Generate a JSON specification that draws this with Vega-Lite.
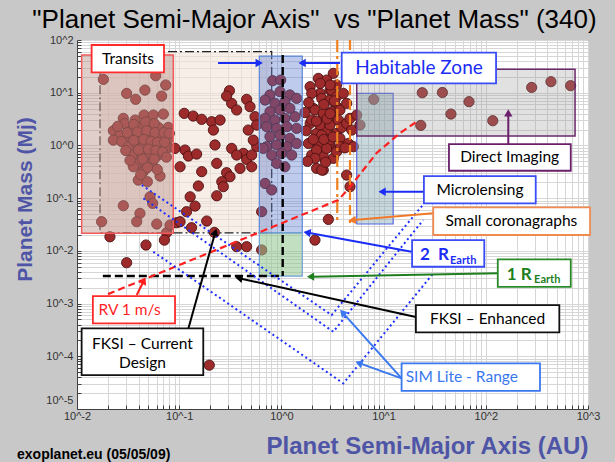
{
  "$schema": "https://vega.github.io/schema/vega-lite/v6.json",
  "width": 511,
  "height": 369,
  "autosize": {"type": "none"},
  "padding": {"left": 77, "top": 40, "right": 27, "bottom": 53},
  "background": "#c8c8c8",
  "view": {"fill": "white", "stroke": "#404040", "strokeWidth": 1},
  "title": {
    "text": "\"Planet Semi-Major Axis\"\u00a0 vs \"Planet Mass\" (340)",
    "font": "Liberation Sans", "fontSize": 26, "fontWeight": "normal", "color": "#000000",
    "anchor": "middle", "frame": "group", "offset": 1, "dx": -18
  },
  "datasets": {
    "planets": [
      {"x":0.0181,"y":17.9},{"x":0.0589,"y":21.0},{"x":0.0738,"y":14.0},{"x":0.0462,"y":11.2},{"x":0.0306,"y":9.7},{"x":0.0375,"y":7.5},{"x":0.0673,"y":8.65},{"x":0.0284,"y":3.26},{"x":0.037,"y":3.03},{"x":0.0453,"y":3.77},{"x":0.0558,"y":3.77},{"x":0.07,"y":3.94},{"x":0.0783,"y":2.2},{"x":0.0625,"y":2.2},{"x":0.0499,"y":2.33},{"x":0.0413,"y":2.2},{"x":0.033,"y":2.11},{"x":0.0227,"y":1.9},{"x":0.0264,"y":1.57},{"x":0.033,"y":1.47},{"x":0.0413,"y":1.51},{"x":0.0518,"y":1.47},{"x":0.0649,"y":1.47},{"x":0.0783,"y":1.36},{"x":0.0227,"y":1.26},{"x":0.0274,"y":1.18},{"x":0.0318,"y":0.946},{"x":0.0384,"y":1.09},{"x":0.0446,"y":0.975},{"x":0.0558,"y":0.975},{"x":0.0673,"y":0.918},{"x":0.0783,"y":0.918},{"x":0.0356,"y":0.658},{"x":0.043,"y":0.658},{"x":0.0518,"y":0.706},{"x":0.0625,"y":0.658},{"x":0.0384,"y":0.444},{"x":0.0462,"y":0.47},{"x":0.0538,"y":0.457},{"x":0.0356,"y":0.394},{"x":0.0446,"y":0.318},{"x":0.0649,"y":0.262},{"x":0.0398,"y":0.22},{"x":0.0488,"y":0.205},{"x":0.0518,"y":0.106},{"x":0.055,"y":0.0796},{"x":0.0284,"y":0.0718},{"x":0.0413,"y":0.0514},{"x":0.0384,"y":0.0357},{"x":0.0174,"y":0.0357},{"x":0.0603,"y":0.0323},{"x":0.0753,"y":0.0221},{"x":0.0813,"y":0.0309},{"x":0.0944,"y":0.0342},{"x":0.021,"y":0.0185},
      {"x":0.029,"y":2.6},{"x":0.036,"y":2.5},{"x":0.047,"y":2.8},{"x":0.057,"y":2.6},{"x":0.025,"y":2.3},{"x":0.031,"y":1.75},{"x":0.039,"y":1.8},{"x":0.048,"y":1.9},{"x":0.058,"y":1.75},{"x":0.071,"y":1.75},{"x":0.036,"y":1.25},{"x":0.045,"y":1.3},{"x":0.053,"y":1.2},{"x":0.061,"y":1.15},{"x":0.072,"y":1.15},{"x":0.03,"y":0.8},{"x":0.04,"y":0.82},{"x":0.05,"y":0.85},{"x":0.059,"y":0.8},{"x":0.069,"y":0.75},{"x":0.044,"y":0.55},{"x":0.057,"y":0.55},{"x":0.033,"y":0.52},{"x":0.049,"y":0.38},{"x":0.042,"y":0.28},{"x":0.061,"y":0.35},{"x":0.075,"y":0.6},{"x":0.08,"y":1.7},
      {"x":0.112,"y":4.06},{"x":0.137,"y":3.61},{"x":0.166,"y":3.13},{"x":0.114,"y":0.818},{"x":0.123,"y":0.63},{"x":0.148,"y":0.687},{"x":0.102,"y":0.394},{"x":0.166,"y":0.318},{"x":0.154,"y":0.17},{"x":0.128,"y":0.106},{"x":0.143,"y":0.0708},{"x":0.118,"y":0.0553},{"x":0.102,"y":0.0357},{"x":0.091,"y":0.879},{"x":0.31,"y":10.9},{"x":0.326,"y":6.28},{"x":0.291,"y":8.65},{"x":0.457,"y":7.48},{"x":0.493,"y":5.43},{"x":0.365,"y":4.7},{"x":0.552,"y":3.51},{"x":0.208,"y":2.82},{"x":0.251,"y":3.03},{"x":0.216,"y":1.96},{"x":0.474,"y":1.96},{"x":0.573,"y":2.44},{"x":0.224,"y":1.02},{"x":0.326,"y":0.879},{"x":0.425,"y":0.706},{"x":0.573,"y":0.946},{"x":0.457,"y":0.544},{"x":0.512,"y":0.658},{"x":0.233,"y":0.457},{"x":0.394,"y":0.367},{"x":0.512,"y":0.394},{"x":0.291,"y":0.304},{"x":0.314,"y":0.255},{"x":0.261,"y":0.205},{"x":0.27,"y":0.165},{"x":0.233,"y":0.111},{"x":0.641,"y":0.0553},{"x":0.365,"y":0.658},{"x":0.531,"y":1.26},
      {"x":0.822,"y":16.9},{"x":0.984,"y":17.4},{"x":0.968,"y":10.5},{"x":0.773,"y":9.06},{"x":1.21,"y":9.06},{"x":0.692,"y":7.27},{"x":0.865,"y":6.28},{"x":1.08,"y":6.76},{"x":1.41,"y":7.82},{"x":0.773,"y":4.37},{"x":0.968,"y":4.7},{"x":1.21,"y":5.05},{"x":0.692,"y":3.26},{"x":0.865,"y":3.03},{"x":1.08,"y":3.26},{"x":1.36,"y":3.51},{"x":0.718,"y":2.27},{"x":0.9,"y":2.11},{"x":1.13,"y":2.27},{"x":1.41,"y":2.11},{"x":0.773,"y":1.47},{"x":0.968,"y":1.57},{"x":1.21,"y":1.36},{"x":0.718,"y":0.946},{"x":0.9,"y":1.02},{"x":1.13,"y":0.946},{"x":1.41,"y":1.09},{"x":0.804,"y":0.658},{"x":1.0,"y":0.706},{"x":1.26,"y":0.658},{"x":0.9,"y":0.457},{"x":1.08,"y":0.394},{"x":0.665,"y":0.879},{"x":0.692,"y":0.19},{"x":0.804,"y":0.143},
      {"x":1.91,"y":13.0},{"x":2.39,"y":9.73},{"x":2.99,"y":11.2},{"x":3.22,"y":23.3},{"x":2.3,"y":18.7},{"x":2.77,"y":17.4},{"x":3.47,"y":5.43},{"x":2.05,"y":5.05},{"x":2.57,"y":3.51},{"x":3.22,"y":3.03},{"x":1.91,"y":2.62},{"x":2.21,"y":1.69},{"x":2.77,"y":1.96},{"x":3.47,"y":1.69},{"x":1.84,"y":1.09},{"x":2.3,"y":0.946},{"x":2.99,"y":1.09},{"x":3.47,"y":0.818},{"x":1.98,"y":0.658},{"x":2.57,"y":0.611},{"x":3.22,"y":0.569},{"x":2.21,"y":0.367},{"x":2.57,"y":0.341},{"x":2.88,"y":0.0395},
      {"x":1.98,"y":9.73},{"x":2.48,"y":7.82},{"x":2.99,"y":7.27},{"x":3.1,"y":11.2},{"x":2.13,"y":4.7},{"x":2.57,"y":4.06},{"x":3.1,"y":4.37},{"x":3.74,"y":4.7},{"x":1.98,"y":3.03},{"x":2.39,"y":2.44},{"x":2.99,"y":2.44},{"x":3.61,"y":3.03},{"x":2.48,"y":1.57},{"x":2.99,"y":1.26},{"x":3.74,"y":1.36},{"x":2.21,"y":0.818},{"x":2.77,"y":0.879},{"x":3.47,"y":0.76},{"x":2.13,"y":0.569},{"x":2.48,"y":0.341},{"x":3.47,"y":14.0},{"x":3.47,"y":8.41},
      {"x":1.7,"y":4.2},{"x":1.85,"y":6.5},{"x":2.6,"y":6.0},{"x":3.3,"y":7.0},{"x":2.2,"y":2.9},{"x":2.8,"y":3.2},{"x":3.0,"y":4.0},{"x":2.05,"y":1.3},{"x":2.6,"y":1.3},{"x":3.2,"y":1.45},{"x":1.75,"y":1.9},{"x":3.9,"y":2.2},{"x":3.8,"y":0.95},{"x":2.7,"y":0.48},{"x":1.8,"y":0.5},{"x":2.4,"y":15.0},{"x":3.0,"y":14.0},
      {"x":4.04,"y":9.73},{"x":4.35,"y":6.28},{"x":4.35,"y":2.62},{"x":4.69,"y":3.26},{"x":4.87,"y":1.96},{"x":4.52,"y":1.09},{"x":5.06,"y":0.946},{"x":4.19,"y":0.9},{"x":4.35,"y":0.274},{"x":4.69,"y":0.165},{"x":5.45,"y":3.77},{"x":5.87,"y":2.44},{"x":8.0,"y":7.48},
      {"x":23.9,"y":10.0},{"x":37.6,"y":10.1},{"x":68.5,"y":6.76},{"x":45.6,"y":3.94},{"x":117,"y":2.94},{"x":23.1,"y":2.4},{"x":281,"y":12.6},{"x":434,"y":16.2},{"x":676,"y":13.6},
      {"x":0.0306,"y":0.00596},{"x":0.0473,"y":0.0129},{"x":0.0716,"y":0.016},{"x":0.132,"y":0.0275},{"x":0.186,"y":0.0368},{"x":0.221,"y":0.0224},{"x":0.365,"y":0.012},{"x":0.457,"y":0.012},{"x":0.641,"y":0.0104},{"x":2.13,"y":0.016},{"x":0.197,"y":0.000068}
    ],
    "arrows": [
      {"x":0.59,"y":36.6,"x2":0.24,"y2":36.6,"c":"blue","ang":90},
      {"x":1.64,"y":36.6,"x2":3.74,"y2":36.6,"c":"blue","ang":270},
      {"x":166,"y":3.94,"x2":166,"y2":1.06,"c":"purple","ang":0},
      {"x":9.93,"y":0.132,"x2":24.4,"y2":0.132,"c":"blue","ang":270},
      {"x":5.06,"y":0.0384,"x2":30.6,"y2":0.0515,"c":"orange","ang":265},
      {"x":1.83,"y":0.022,"x2":18.8,"y2":0.00962,"c":"blue","ang":280},
      {"x":1.98,"y":0.00323,"x2":131,"y2":0.00374,"c":"green","ang":269},
      {"x":0.394,"y":0.003,"x2":20.7,"y2":0.000555,"c":"black","ang":282},
      {"x":4.04,"y":0.000652,"x2":15.0,"y2":0.0000381,"c":"sim","ang":317},
      {"x":5.87,"y":0.0000733,"x2":15.0,"y2":0.0000381,"c":"sim","ang":290},
      {"x":0.0446,"y":0.00259,"x2":0.0384,"y2":0.00145,"c":"red","ang":26},
      {"x":0.224,"y":0.0215,"x2":0.123,"y2":0.000338,"c":"black","ang":16}
    ],
    "labelboxes": [
      {"x":0.0139,"x2":0.071,"y":80.4,"y2":24.4,"c":"red"},
      {"x":3.89,"x2":126,"y":57.4,"y2":15.1,"c":"blue"},
      {"x":43.6,"x2":678,"y":1.06,"y2":0.331,"c":"purple"},
      {"x":24.8,"x2":308,"y":0.262,"y2":0.0796,"c":"blue"},
      {"x":30.6,"x2":1047,"y":0.0668,"y2":0.02,"c":"orange"},
      {"x":19.0,"x2":96.6,"y":0.016,"y2":0.00499,"c":"blue"},
      {"x":131,"x2":678,"y":0.0069,"y2":0.00208,"c":"green"},
      {"x":20.7,"x2":524,"y":0.000937,"y2":0.000284,"c":"black"},
      {"x":15.0,"x2":339,"y":0.0000733,"y2":0.0000221,"c":"sim"},
      {"x":0.0143,"x2":0.091,"y":0.00139,"y2":0.000421,"c":"red"},
      {"x":0.0111,"x2":0.172,"y":0.000338,"y2":0.000044,"c":"black"}
    ],
    "texts": [
      {"x":0.0316,"y":43.6,"t":"Transits","c":"black"},
      {"x":171,"y":0.594,"t":"Direct Imaging","c":"black"},
      {"x":87.7,"y":0.144,"t":"Microlensing","c":"black"},
      {"x":178,"y":0.0367,"t":"Small coronagraphs","c":"black"},
      {"x":104,"y":0.000515,"t":"FKSI – Enhanced","c":"black"},
      {"x":58.2,"y":0.0000398,"t":"SIM Lite - Range","c":"sim"},
      {"x":0.0327,"y":0.000753,"t":"RV 1 m/s","c":"red"},
      {"x":0.0437,"y":0.000171,"t":"FKSI – Current","c":"black"},
      {"x":0.0437,"y":0.0000733,"t":"Design","c":"black"}
    ]
  },
  "encoding": {
    "x": {
      "field": "x", "type": "quantitative",
      "scale": {"type": "log", "domain": [0.01, 1000], "nice": false},
      "axis": {
        "values": [0.01,0.02,0.03,0.04,0.05,0.06,0.07,0.08,0.09,0.1,0.2,0.3,0.4,0.5,0.6,0.7,0.8,0.9,1,2,3,4,5,6,7,8,9,10,20,30,40,50,60,70,80,90,100,200,300,400,500,600,700,800,900,1000],
        "labelExpr": "abs(log(datum.value)/LN10 - round(log(datum.value)/LN10)) < 0.01 ? '10^' + round(log(datum.value)/LN10) : ''",
        "labelOverlap": false, "labelBound": false, "labelFlush": false,
        "labelFont": "Liberation Sans", "labelFontSize": 11, "labelColor": "#333333", "labelPadding": 5,
        "grid": true, "gridColor": "#d6d6d6", "gridWidth": 1,
        "ticks": true, "tickSize": -4, "tickColor": "#404040",
        "domainColor": "#404040",
        "title": "Planet Semi-Major Axis (AU)",
        "titleFont": "Liberation Sans", "titleFontSize": 24, "titleFontWeight": "bold", "titleColor": "#4f55a6",
        "titleX": 350, "titleY": 37, "titleAlign": "center", "titleBaseline": "middle", "titleAnchor": null
      }
    },
    "y": {
      "field": "y", "type": "quantitative",
      "scale": {"type": "log", "domain": [0.00001, 100], "nice": false},
      "axis": {
        "values": [0.00001,0.00002,0.00003,0.00004,0.00005,0.00006,0.00007,0.00008,0.00009,0.0001,0.0002,0.0003,0.0004,0.0005,0.0006,0.0007,0.0008,0.0009,0.001,0.002,0.003,0.004,0.005,0.006,0.007,0.008,0.009,0.01,0.02,0.03,0.04,0.05,0.06,0.07,0.08,0.09,0.1,0.2,0.3,0.4,0.5,0.6,0.7,0.8,0.9,1,2,3,4,5,6,7,8,9,10,20,30,40,50,60,70,80,90,100],
        "labelExpr": "abs(log(datum.value)/LN10 - round(log(datum.value)/LN10)) < 0.01 ? '10^' + round(log(datum.value)/LN10) : ''",
        "labelOverlap": false, "labelBound": false, "labelFlush": false,
        "labelOffset": {"condition": {"test": "datum.value < 0.000015", "value": -9}, "value": 0},
        "labelFont": "Liberation Sans", "labelFontSize": 11, "labelColor": "#333333", "labelPadding": 8,
        "grid": true, "gridColor": "#d6d6d6", "gridWidth": 1,
        "ticks": true, "tickSize": -4, "tickColor": "#404040",
        "domainColor": "#404040",
        "title": "Planet Mass (Mj)",
        "titleFont": "Liberation Sans", "titleFontSize": 21, "titleFontWeight": "bold", "titleColor": "#4f55a6",
        "titleX": -52, "titleY": 159, "titleAngle": -90, "titleAlign": "center", "titleBaseline": "middle", "titleAnchor": null
      }
    }
  },
  "layer": [
    {
      "data": {"values": [{"x":0.0168,"x2":0.804,"y":60,"y2":0.022}]},
      "mark": {"type": "rect", "fill": "#f2e3d8", "fillOpacity": 0.6, "stroke": "#222222", "strokeWidth": 1.2, "strokeDash": [9,3,2,3]},
      "encoding": {"x2": {"field": "x2"}, "y2": {"field": "y2"}}
    },
    {
      "data": {"name": "planets"},
      "mark": {"type": "circle", "size": 105, "fill": "#9e2b2b", "fillOpacity": 1, "stroke": "#4d1212", "strokeWidth": 0.9, "opacity": 1}
    },
    {
      "data": {"values": [{"x":0.0111,"x2":0.0875,"y":51.9,"y2":0.0215}]},
      "mark": {"type": "rect", "fill": "#bb938c", "fillOpacity": 0.45, "stroke": "#f05a5a", "strokeWidth": 1.5},
      "encoding": {"x2": {"field": "x2"}, "y2": {"field": "y2"}}
    },
    {
      "data": {"values": [{"x":0.608,"x2":1.6,"y":49.6,"y2":0.022}]},
      "mark": {"type": "rect", "fill": "#5577cc", "fillOpacity": 0.38, "stroke": "#5b86d6", "strokeWidth": 1.2},
      "encoding": {"x2": {"field": "x2"}, "y2": {"field": "y2"}}
    },
    {
      "data": {"values": [{"x":0.608,"x2":1.6,"y":0.022,"y2":0.00333}]},
      "mark": {"type": "rect", "fill": "#8fc48f", "fillOpacity": 0.55, "stroke": "#6f9fd6", "strokeWidth": 1.2},
      "encoding": {"x2": {"field": "x2"}, "y2": {"field": "y2"}}
    },
    {
      "data": {"values": [{"x":5.46,"x2":12.4,"y":9.75,"y2":0.0323}]},
      "mark": {"type": "rect", "fill": "#88a9b4", "fillOpacity": 0.45, "stroke": "#5566e0", "strokeWidth": 1.2},
      "encoding": {"x2": {"field": "x2"}, "y2": {"field": "y2"}}
    },
    {
      "data": {"values": [{"x":5.46,"x2":747,"y":27.8,"y2":1.51}]},
      "mark": {"type": "rect", "fill": "#9a9a9a", "fillOpacity": 0.3, "stroke": "#6a2a6a", "strokeWidth": 1.5},
      "encoding": {"x2": {"field": "x2"}, "y2": {"field": "y2"}}
    },
    {
      "data": {"values": [{"x":1.03,"y":51.9,"x2":1.03,"y2":0.00333},{"x":0.0179,"y":0.00333,"x2":1.03,"y2":0.00333}]},
      "mark": {"type": "rule", "color": "#000000", "strokeWidth": 2.4, "strokeDash": [8,4]},
      "encoding": {"x2": {"field": "x2"}, "y2": {"field": "y2"}}
    },
    {
      "data": {"values": [{"x":3.52,"y":100,"x2":3.52,"y2":0.0337}]},
      "mark": {"type": "rule", "color": "#f08020", "strokeWidth": 2.2, "strokeDash": [12,4,3,4]},
      "encoding": {"x2": {"field": "x2"}, "y2": {"field": "y2"}}
    },
    {
      "data": {"values": [{"x":4.69,"y":100,"x2":4.69,"y2":0.0337}]},
      "mark": {"type": "rule", "color": "#f08020", "strokeWidth": 2.2, "strokeDash": [10,5]},
      "encoding": {"x2": {"field": "x2"}, "y2": {"field": "y2"}}
    },
    {
      "data": {"values": [{"x":0.0201,"y":0.00151,"o":1},{"x":3.6,"y":0.092,"o":2},{"x":4.69,"y":0.163,"o":3},{"x":8.55,"y":0.718,"o":4},{"x":14.5,"y":1.72,"o":5},{"x":21.1,"y":2.82,"o":6}]},
      "mark": {"type": "line", "color": "#ff2020", "strokeWidth": 2.2, "strokeDash": [7,4]},
      "encoding": {"order": {"field": "o", "type": "quantitative"}}
    },
    {
      "data": {"values": [
        {"x":0.043,"y":0.177,"g":"a","o":1},{"x":3.1,"y":0.000605,"g":"a","o":2},{"x":25.4,"y":0.0832,"g":"a","o":3},
        {"x":0.0446,"y":0.0991,"g":"b","o":1},{"x":3.22,"y":0.000292,"g":"b","o":2},{"x":24.4,"y":0.0384,"g":"b","o":3},
        {"x":0.0558,"y":0.00962,"g":"c","o":1},{"x":4.04,"y":0.0000306,"g":"c","o":2},{"x":30.6,"y":0.00374,"g":"c","o":3}
      ]},
      "mark": {"type": "line", "color": "#1f2fff", "strokeWidth": 2, "strokeDash": [2,3]},
      "encoding": {"detail": {"field": "g"}, "order": {"field": "o", "type": "quantitative"}}
    },
    {
      "data": {"name": "arrows"},
      "mark": {"type": "rule", "strokeWidth": 2},
      "encoding": {
        "x2": {"field": "x2"}, "y2": {"field": "y2"},
        "color": {"field": "c", "type": "nominal", "legend": null,
          "scale": {"domain": ["red","blue","purple","orange","green","black","sim"], "range": ["#ff1f1f","#1a2cf5","#6b1f6b","#f07a2a","#1f7f1f","#000000","#3a78f0"]}}
      }
    },
    {
      "data": {"name": "arrows"},
      "mark": {"type": "point", "shape": "triangle", "filled": true, "size": 70, "opacity": 1},
      "encoding": {
        "angle": {"field": "ang", "type": "quantitative", "scale": null},
        "color": {"field": "c", "type": "nominal", "legend": null,
          "scale": {"domain": ["red","blue","purple","orange","green","black","sim"], "range": ["#ff1f1f","#1a2cf5","#6b1f6b","#f07a2a","#1f7f1f","#000000","#3a78f0"]}}
      }
    },
    {
      "data": {"name": "labelboxes"},
      "mark": {"type": "rect", "fill": "white", "strokeWidth": 1.8},
      "encoding": {
        "x2": {"field": "x2"}, "y2": {"field": "y2"},
        "stroke": {"field": "c", "type": "nominal", "legend": null,
          "scale": {"domain": ["red","blue","purple","orange","green","black","sim"], "range": ["#ff2a2a","#3a4cf5","#6b1f6b","#f08a50","#2a8a2a","#111111","#3a78f0"]}}
      }
    },
    {
      "data": {"name": "texts"},
      "mark": {"type": "text", "font": "Lato", "fontSize": 15.5, "align": "center", "baseline": "middle"},
      "encoding": {
        "text": {"field": "t"},
        "color": {"field": "c", "type": "nominal", "legend": null,
          "scale": {"domain": ["red","blue","purple","orange","green","black","sim"], "range": ["#ff1f1f","#1a2cf5","#6b1f6b","#f07a2a","#1f7f1f","#000000","#3a78f0"]}}
      }
    },
    {
      "data": {"values": [{"x":22.2,"y":29.4,"t":"Habitable Zone"}]},
      "mark": {"type": "text", "font": "Lato", "fontSize": 19, "align": "center", "baseline": "middle", "color": "#1a2cf5"},
      "encoding": {"text": {"field": "t"}}
    },
    {
      "data": {"values": [{"x":22.7,"y":0.00832,"t":"2\u00a0 R","c":"blue"},{"x":160,"y":0.00348,"t":"1 R","c":"green"}]},
      "mark": {"type": "text", "font": "Lato", "fontSize": 17, "fontWeight": "bold", "align": "left", "baseline": "middle"},
      "encoding": {
        "text": {"field": "t"},
        "color": {"field": "c", "type": "nominal", "legend": null,
          "scale": {"domain": ["red","blue","purple","orange","green","black","sim"], "range": ["#ff1f1f","#1a2cf5","#6b1f6b","#f07a2a","#1f7f1f","#000000","#3a78f0"]}}
      }
    },
    {
      "data": {"values": [{"x":44.7,"y":0.0064,"t":"Earth","c":"blue"},{"x":297,"y":0.00279,"t":"Earth","c":"green"}]},
      "mark": {"type": "text", "font": "Lato", "fontSize": 11, "fontWeight": "bold", "align": "left", "baseline": "middle"},
      "encoding": {
        "text": {"field": "t"},
        "color": {"field": "c", "type": "nominal", "legend": null,
          "scale": {"domain": ["red","blue","purple","orange","green","black","sim"], "range": ["#ff1f1f","#1a2cf5","#6b1f6b","#f07a2a","#1f7f1f","#000000","#3a78f0"]}}
      }
    },
    {
      "data": {"values": [{"x":0.00259,"y":0.00000112,"t":"exoplanet.eu (05/05/09)"}]},
      "mark": {"type": "text", "font": "Liberation Sans", "fontSize": 14, "fontWeight": "bold", "align": "left", "baseline": "alphabetic", "color": "#000000"},
      "encoding": {"text": {"field": "t"}}
    }
  ]
}
